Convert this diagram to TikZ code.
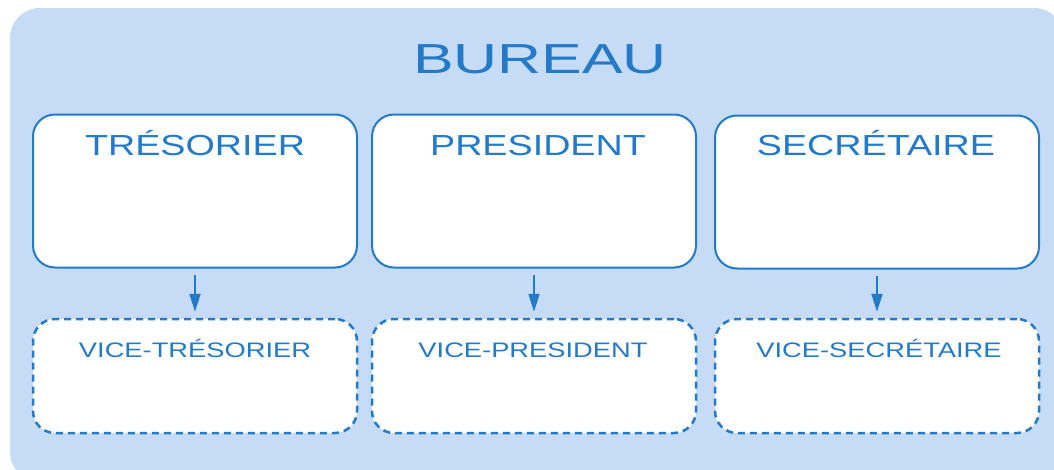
\documentclass[tikz,border=0pt]{standalone}
\usepackage{fontspec}
\setmainfont{Liberation Sans}
\newfontfamily\etirefont[FakeStretch=1.3]{Liberation Sans}
\newfontfamily\titrefont[FakeStretch=1.45]{Liberation Sans}
\usetikzlibrary{arrows.meta}
\definecolor{fond}{RGB}{198,219,246}
\definecolor{bleu}{RGB}{34,122,200}
\tikzset{
	poste/.style={draw=bleu, line width=2pt, fill=white, rounded corners=22pt,
		minimum width=324pt, minimum height=153pt, inner sep=0pt},
	adjoint/.style={poste, dash pattern=on 7pt off 5pt, line width=2.5pt, minimum height=114pt},
	nom/.style={anchor=base, text=bleu, font=\etirefont\fontsize{29}{29}\selectfont},
	nomadj/.style={nom, font=\etirefont\fontsize{21}{21}\selectfont},
}
\begin{document}
\begin{tikzpicture}[x=1pt, y=-1pt, line join=round, >={Triangle[length=18pt,width=11pt]}]
				\useasboundingbox (0,0) rectangle (1054,469);
				\clip (0,0) rectangle (1054,469);
				\fill[fond, rounded corners=30pt] (10,8) rectangle (1064,482);
				\node[anchor=base, text=bleu, font=\titrefont\fontsize{42}{42}\selectfont] (bureau) at (540,73) {BUREAU};
				% titulaires
				\node[poste] (tres) at (195,191) {};
				\node[poste] (pres) at (534,191) {};
				\node[poste] (secr) at (877,192) {};
				\node[nom] (tres-t) at (195,155) {TRÉSORIER};
				\node[nom] (pres-t) at (538,155) {PRESIDENT};
				\node[nom] (secr-t) at (876,155) {SECRÉTAIRE};
				% adjoints
				\node[adjoint] (vtres) at (195,376) {};
				\node[adjoint] (vpres) at (534,376) {};
				\node[adjoint] (vsecr) at (877,376) {};
				\node[nomadj] (vtres-t) at (195,357) {VICE-TRÉSORIER};
				\node[nomadj] (vpres-t) at (533,357) {VICE-PRESIDENT};
				\node[nomadj] (vsecr-t) at (879,357) {VICE-SECRÉTAIRE};
				\foreach \a/\b in {tres/vtres, pres/vpres, secr/vsecr}
				\draw[->, bleu, line width=2pt, shorten <=6pt, shorten >=6pt] (\a) -- (\b);
			\end{tikzpicture}
\end{document}
